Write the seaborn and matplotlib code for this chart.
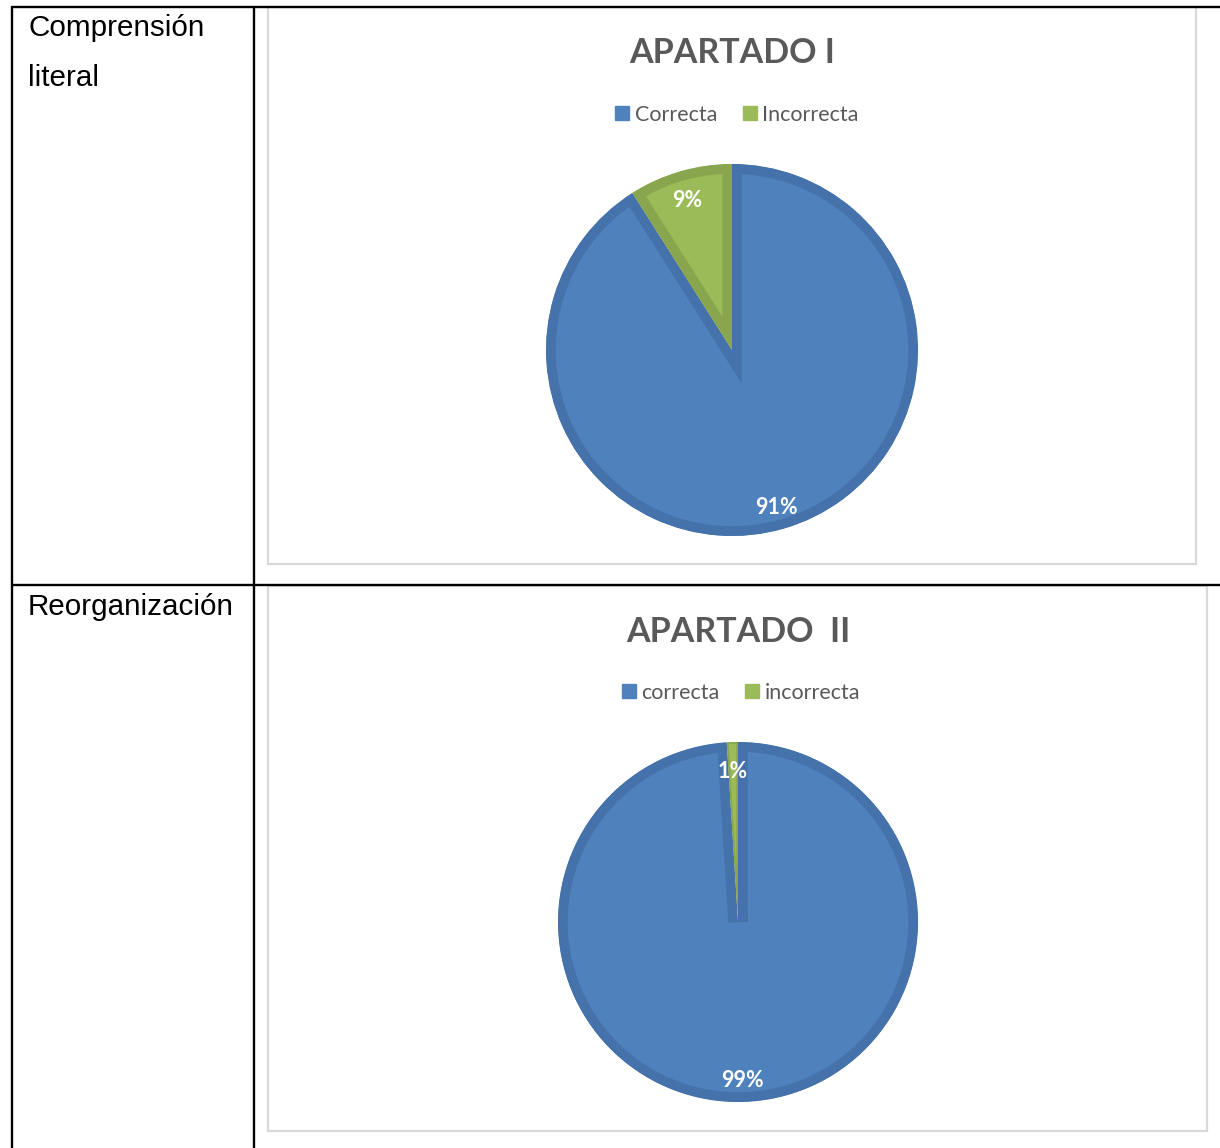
import matplotlib
matplotlib.use("Agg")
import matplotlib.pyplot as plt
import matplotlib.transforms as mtransforms
import seaborn as sns
from matplotlib.lines import Line2D
from matplotlib.patches import Rectangle

# ---- data ----
row_labels = [["Comprensión", "literal"], ["Reorganización"]]
titles = ["APARTADO I", "APARTADO  II"]
categories_1 = ["Correcta", "Incorrecta"]
categories_2 = ["correcta", "incorrecta"]
values_1 = [91, 9]
values_2 = [99, 1]

face_colors = ["#4F81BD", "#9BBB59"]
edge_colors = ["#4572AA", "#89A64E"]

sns.set_theme(style="white")
plt.rcParams["font.family"] = ["Lato", "DejaVu Sans"]

W, H = 1220, 1148
fig = plt.figure(figsize=(W / 100, H / 100), dpi=100)
fig.patch.set_facecolor("white")

# background axes in pixel coordinates
bg = fig.add_axes([0, 0, 1, 1])
bg.set_xlim(0, W)
bg.set_ylim(H, 0)
bg.axis("off")

# chart frames (light gray)
for (x0, y0, x1, y1) in [(268, 7, 1196, 564), (268, 586, 1207, 1131)]:
    bg.add_patch(Rectangle((x0, y0), x1 - x0, y1 - y0, fill=False,
                           edgecolor="#D9D9D9", linewidth=1.6, zorder=1))

# table lines (black)
lw = 1.7
bg.plot([11, W], [6.5, 6.5], color="black", lw=lw, zorder=3, solid_capstyle="butt")
bg.plot([11.5, 11.5], [6, H], color="black", lw=lw, zorder=3, solid_capstyle="butt")
bg.plot([254, 254], [6, H], color="black", lw=lw, zorder=3, solid_capstyle="butt")
bg.plot([11, W], [585, 585], color="black", lw=lw, zorder=3, solid_capstyle="butt")

# row labels
lab_font = ["Liberation Sans", "DejaVu Sans"]
bg.text(28, 36, row_labels[0][0], fontsize=21.3, family=lab_font,
        color="black", va="baseline", ha="left")
bg.text(28, 86, row_labels[0][1], fontsize=21.3, family=lab_font,
        color="black", va="baseline", ha="left")
bg.text(28, 615, row_labels[1][0], fontsize=21.3, family=lab_font,
        color="black", va="baseline", ha="left")


def draw_pie(values, cats, title, cx, cy, r, title_xy, legend_xy):
    ax = fig.add_axes([(cx - r) / W, 1 - (cy + r) / H, 2 * r / W, 2 * r / H])
    wedges, texts, autotexts = ax.pie(
        values, colors=face_colors, startangle=90, counterclock=False,
        autopct="%1.0f%%", pctdistance=0.86,
        wedgeprops=dict(linewidth=14, joinstyle="miter"),
        textprops=dict(color="white", fontsize=15.5, fontweight="bold"))
    for w, ec, v in zip(wedges, edge_colors, values):
        w.set_edgecolor(ec)
        w.set_linewidth(14 if v >= 5 else 2.5)
        w.set_clip_on(True)
        w.set_clip_path(w)
    shift = mtransforms.offset_copy(ax.transData, fig=fig, x=0, y=-4, units="dots")
    for t in autotexts:
        t.set_transform(shift)
    ax.set_xlim(-1, 1)
    ax.set_ylim(-1, 1)
    ax.axis("off")
    bg.text(title_xy[0], title_xy[1], title, fontsize=24.5, fontweight="bold",
            color="#595959", ha="center", va="center")
    handles = [Line2D([0], [0], marker="s", linestyle="none", markersize=10,
                      markerfacecolor=c, markeredgecolor=c) for c in face_colors]
    fig.legend(handles, cats, loc="center",
               bbox_to_anchor=(legend_xy[0] / W, 1 - legend_xy[1] / H),
               ncol=2, frameon=False, fontsize=15.5, labelcolor="#595959",
               handlelength=0.65, handletextpad=0.25, columnspacing=1.2)
    return ax


draw_pie(values_1, categories_1, titles[0], 732, 350, 186, (732, 53), (737, 115))
draw_pie(values_2, categories_2, titles[1], 738, 922, 180, (738, 632), (741, 693))

fig.savefig("out.png", dpi=100, facecolor="white")
